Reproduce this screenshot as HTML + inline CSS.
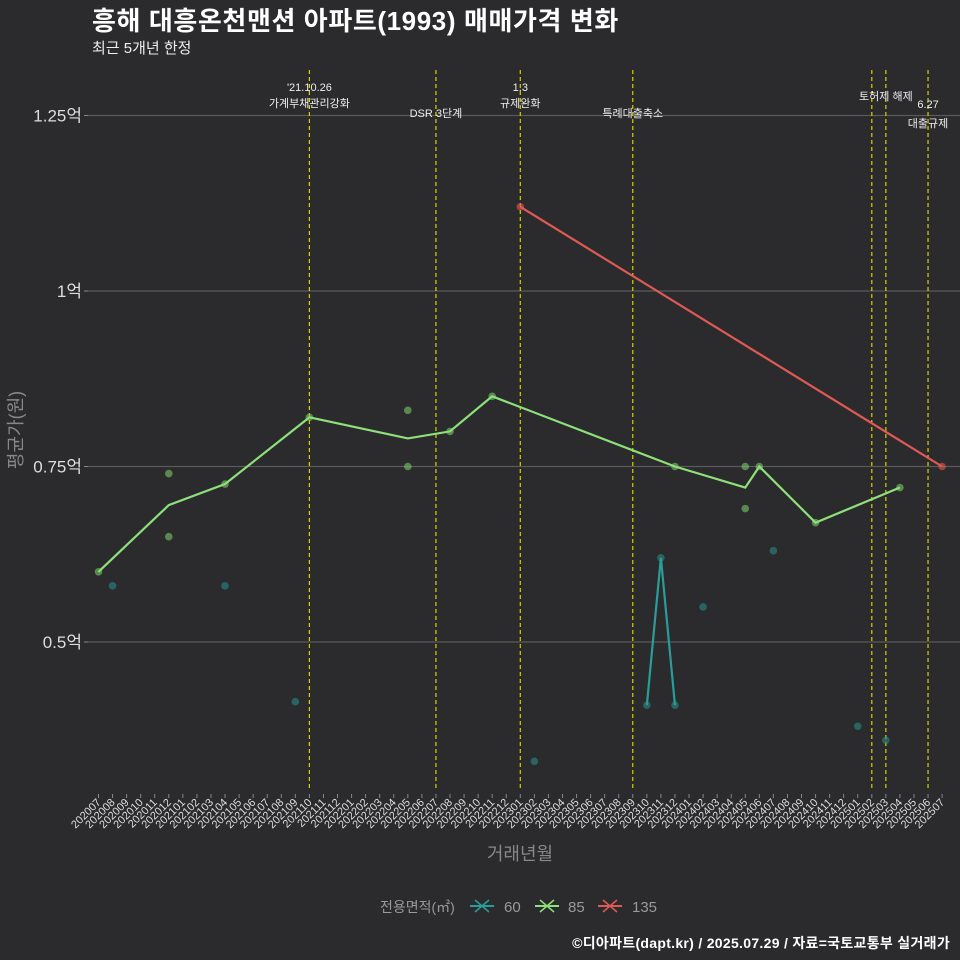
<!DOCTYPE html>
<html><head><meta charset="utf-8"><style>
body{margin:0;background:#2b2a2c;}
svg{display:block;font-family:"Liberation Sans","Noto Sans CJK KR",sans-serif;}
</style></head><body>
<svg id="c" width="960" height="960" viewBox="0 0 960 960">
<rect width="960" height="960" fill="#2b2a2c"/>
<text x="92" y="30" fill="#fff" font-size="26" font-weight="bold" letter-spacing="0.6">흥해 대흥온천맨션 아파트(1993) 매매가격 변화</text>
<text x="92" y="53" fill="#eee" font-size="15">최근 5개년 한정</text>
<g id="grid"></g><g id="events"></g><g id="series"></g><g id="xaxis"></g>
<text x="0" y="0" transform="translate(22,430) rotate(-90)" text-anchor="middle" fill="#888" font-size="18">평균가(원)</text>
<text x="520" y="860" text-anchor="middle" fill="#888" font-size="18">거래년월</text>
<g>
<text x="380" y="912" fill="#999" font-size="14">전용면적(㎡)</text>
<g><line x1="470" y1="906" x2="494" y2="906" stroke="#2a9d9a" stroke-width="2"/><path d="M475 900L489 912M489 900L475 912" stroke="#2a9d9a" stroke-width="1.5"/><text x="504" y="912" fill="#999" font-size="15">60</text></g>
<g><line x1="535" y1="906" x2="559" y2="906" stroke="#8de07a" stroke-width="2"/><path d="M540 900L554 912M554 900L540 912" stroke="#8de07a" stroke-width="1.5"/><text x="568" y="912" fill="#999" font-size="15">85</text></g>
<g><line x1="598" y1="906" x2="622" y2="906" stroke="#e05a55" stroke-width="2"/><path d="M603 900L617 912M617 900L603 912" stroke="#e05a55" stroke-width="1.5"/><text x="632" y="912" fill="#999" font-size="15">135</text></g>
</g>
<text x="950" y="948" text-anchor="end" fill="#fff" font-size="14" font-weight="bold" letter-spacing="0.3">©디아파트(dapt.kr) / 2025.07.29 / 자료=국토교통부 실거래가</text>
</svg>
<script>
const months=[];for(let y=2020;y<=2025;y++)for(let m=1;m<=12;m++){const k=y*100+m;if(k>=202007&&k<=202507)months.push(String(k));}
const yTicks=[0.5,0.75,1,1.25];
const yTickLabels=["0.5억","0.75억","1억","1.25억"];
const s85Months=["202007","202012","202104","202110","202205","202208","202211","202312","202405","202406","202410","202504"];
const s85Values=[0.60,0.695,0.725,0.82,0.79,0.80,0.85,0.75,0.72,0.75,0.67,0.72];
const p85Months=["202007","202012","202012","202104","202110","202205","202205","202208","202211","202312","202405","202405","202406","202410","202504"];
const p85Values=[0.60,0.74,0.65,0.725,0.82,0.83,0.75,0.80,0.85,0.75,0.75,0.69,0.75,0.67,0.72];
const s60Months=["202310","202311","202312"];
const s60Values=[0.41,0.62,0.41];
const p60Months=["202008","202104","202109","202302","202310","202311","202312","202402","202407","202501","202503"];
const p60Values=[0.58,0.58,0.415,0.33,0.41,0.62,0.41,0.55,0.63,0.38,0.36];
const s135Months=["202301","202507"];
const s135Values=[1.12,0.75];
const eventMonths=["202110","202207","202301","202309","202502","202503","202506"];
const eventLabels=[["'21.10.26","가계부채관리강화"],["","DSR 3단계"],["1.3","규제완화"],["","특례대출축소"],["",""],["토허제 해제",""],["6.27","대출규제"]];
const eventLabelY=[[91,107],[0,117],[91,107],[0,117],[0,0],[100,0],[108,127]];
const NS="http://www.w3.org/2000/svg";
const X=m=>98.5+months.indexOf(m)*14.06;
const Y=v=>291-(v-1)*702;
function mk(t,a,p){const e=document.createElementNS(NS,t);for(const k in a)e.setAttribute(k,a[k]);p.appendChild(e);return e;}
const grid=document.getElementById('grid');
yTicks.forEach((v,i)=>{
 const l=mk('line',{x1:88,x2:960,y1:Y(v),y2:Y(v),stroke:'#5a5a5a','stroke-width':1.2},grid);
 
 
 mk('line',{x1:84,x2:88,y1:Y(v),y2:Y(v),stroke:'#888'},grid);
 const t=mk('text',{x:82,y:Y(v)+6,'text-anchor':'end',fill:'#ddd','font-size':17},grid);
 
 
 t.textContent=yTickLabels[i];
});
const ev=document.getElementById('events');
eventMonths.forEach((m,i)=>{
 const l=mk('line',{x1:X(m),x2:X(m),y1:70,y2:790,stroke:'#d4d400','stroke-width':1.2,'stroke-dasharray':'4 3'},ev);
 
 
 eventLabels[i].forEach((s,j)=>{if(!s)return;
  const t=mk('text',{x:X(m),y:eventLabelY[i][j],'text-anchor':'middle',fill:'#eee','font-size':11},ev);
  
  
  t.textContent=s;});
});
const se=document.getElementById('series');
function line(ms,vs,c,name){const l=mk('polyline',{points:ms.map((m,i)=>X(m)+','+Y(vs[i])).join(' '),fill:'none',stroke:c,'stroke-width':2.2},se);
 
 }
function pts(ms,vs,c,name){ms.forEach((m,i)=>{const p=mk('circle',{cx:X(m),cy:Y(vs[i]),r:3.8,fill:c,'fill-opacity':0.6},se);
 
 });}
pts(p60Months,p60Values,'#2a8a88','point-60');
pts(p85Months,p85Values,'#7ac86a','point-85');
line(s85Months,s85Values,'#8de07a','line-85');
line(s60Months,s60Values,'#2a9d9a','line-60');
line(s135Months,s135Values,'#e05a55','line-135');
pts(s135Months,s135Values,'#e05a55','point-135');
const xa=document.getElementById('xaxis');
months.forEach(m=>{const x=X(m);
 mk('line',{x1:x,x2:x,y1:794,y2:798,stroke:'#888'},xa);
 const t=mk('text',{x:0,y:0,transform:`translate(${x+3},${803}) rotate(-45)`,'text-anchor':'end',fill:'#ddd','font-size':11},xa);
 
 
 t.textContent=m;});
</script>
</body></html>
